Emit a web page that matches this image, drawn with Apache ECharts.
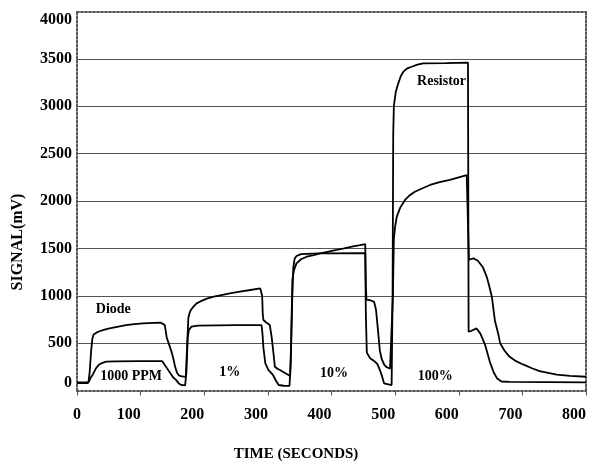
<!DOCTYPE html>
<html>
<head>
<meta charset="utf-8">
<script src="https://cdn.jsdelivr.net/npm/echarts@6/dist/echarts.min.js"></script>
<style>
html,body{margin:0;padding:0;background:#fff;}
#chart{width:590px;height:464px;}
</style>
</head>
<body>
<div id="chart"></div>
<script>
// ---- data (time in seconds, signal in mV) ----
const xTicks = [0, 100, 200, 300, 400, 500, 600, 700, 800];
const yTicks = [0, 500, 1000, 1500, 2000, 2500, 3000, 3500, 4000];

const diodeTime = [0, 10, 18, 20, 22, 24, 26, 33, 42, 51, 65, 77, 90, 104, 120, 132, 135,
  138, 141, 145, 149, 152, 154, 157, 160, 165, 171,
  173, 175, 177, 179, 183, 188, 194, 204, 215, 225, 240, 256, 270, 288, 290,
  291, 292, 293, 297, 303, 306, 309, 311, 315, 319, 327, 335,
  336.5, 338.5, 341, 345, 352, 361, 372, 382, 395, 408, 420, 432, 445, 453,
  454, 455, 462, 467, 470, 473, 476, 479, 483, 487, 492, 494.5,
  496.5, 498, 500, 502.6, 508, 515.6, 522, 531, 543, 555, 570, 586, 600, 612.5, 614.5,
  616, 619, 623, 630, 638, 644, 648, 652, 657, 662, 665, 672, 680, 690, 701, 715, 727, 754, 775, 800];
const diodeSignal = [85, 85, 85, 200, 400, 540, 590, 620, 640, 656, 675, 690, 700, 709, 713, 716, 718,
  690, 560, 480, 400, 320, 255, 190, 160, 148, 143,
  450, 765, 820, 850, 885, 920, 940, 970, 990, 1005, 1025, 1043, 1058, 1078, 1080,
  1000, 800, 744, 720, 691, 560, 380, 251, 230, 216, 185, 153,
  500, 1166, 1270, 1342, 1385, 1412, 1430, 1448, 1465, 1483, 1500, 1518, 1535, 1546,
  1100, 960, 950, 935, 850, 640, 420, 330, 270, 245, 230, 228,
  1000, 1600, 1730, 1834, 1930, 2011, 2055, 2098, 2135, 2169, 2198, 2222, 2250, 2274, 2280,
  1380, 1390, 1395, 1370, 1300, 1200, 1100, 990, 730, 600, 500, 420, 355, 310, 275, 235, 205, 168, 155, 145];

const resistorTime = [0, 10, 17, 19, 22, 25, 30, 35, 40, 46, 60, 100, 134,
  137, 142, 147, 151, 156, 160, 164, 170,
  172, 174, 176, 180, 190, 250, 290,
  291.5, 293, 296, 301, 308, 313, 317, 325, 334,
  336, 338, 340, 342, 345, 352, 380, 453,
  454, 455.5, 460.7, 468, 472, 476, 479, 482.6, 485, 494.5,
  496, 497, 498, 501, 505, 509, 513, 519, 526, 535, 544, 580, 614.5,
  615.5, 620, 628, 634, 641, 649, 655, 660, 667, 680, 800];
const resistorSignal = [78, 78, 78, 100, 140, 170, 237, 275, 292, 304, 308, 310, 310,
  290, 230, 180, 140, 110, 75, 58, 55,
  200, 560, 640, 675, 685, 690, 690,
  600, 450, 287, 216, 164, 100, 58, 50, 48,
  300, 900, 1300, 1390, 1420, 1440, 1448, 1450,
  800, 400, 340, 305, 280, 216, 160, 76, 58, 58,
  1000, 2700, 3000, 3150, 3242, 3320, 3365, 3400, 3417, 3440, 3453, 3455, 3460,
  620, 630, 655, 600, 490, 300, 190, 130, 95, 90, 85];

const noteText = ['Diode', '1000 PPM', '1%', '10%', '100%', 'Resistor'];
const noteTime = [57, 85, 240, 404, 563, 573];
const noteSignal = [860, 153, 195, 185, 153, 3266];

// ---- build ----
const zip = (a, b) => a.map((v, i) => [v, b[i]]);
const FONT = 'Liberation Serif';
const dotted = { show: true, onZero: false, lineStyle: { color: '#555', width: 2, type: 'dotted' } };

const chart = echarts.init(document.getElementById('chart'), null, { renderer: 'canvas' });
chart.setOption({
  animation: false,
  backgroundColor: '#fff',
  grid: { left: 77, right: 4, top: 11.5, bottom: 73.5, containLabel: false },
  xAxis: [{
    type: 'value', min: xTicks[0], max: xTicks[xTicks.length - 1], interval: xTicks[1] - xTicks[0],
    axisLine: dotted,
    axisTick: { show: true, inside: false, length: 5, lineStyle: { color: '#555', width: 1 } },
    splitLine: { show: false },
    axisLabel: { fontFamily: FONT, fontWeight: 'bold', fontSize: 16, color: '#000', margin: 16,
      align: 'right', alignMinLabel: 'center', formatter: v => String(v) }
  }, {
    type: 'value', position: 'top', min: 0, max: 800,
    axisLine: dotted, axisTick: { show: false }, axisLabel: { show: false }, splitLine: { show: false }
  }],
  yAxis: [{
    type: 'value', min: yTicks[0], max: yTicks[yTicks.length - 1], interval: yTicks[1] - yTicks[0],
    axisLine: dotted,
    axisTick: { show: false },
    splitLine: { show: true, showMinLine: false, showMaxLine: false, lineStyle: { color: '#555', width: 1, type: 'solid' } },
    axisLabel: { fontFamily: FONT, fontWeight: 'bold', fontSize: 16, color: '#000', margin: 5,
      verticalAlignMaxLabel: 'top', verticalAlignMinLabel: 'bottom', formatter: v => String(v) }
  }, {
    type: 'value', position: 'right', min: 0, max: 4000,
    axisLine: dotted, axisTick: { show: false }, axisLabel: { show: false }, splitLine: { show: false }
  }],
  series: [{
    name: 'Diode', type: 'line', data: zip(diodeTime, diodeSignal), showSymbol: false, symbol: 'none',
    lineStyle: { color: '#000', width: 1.8 }, z: 3, silent: true
  }, {
    name: 'Resistor', type: 'line', data: zip(resistorTime, resistorSignal), showSymbol: false, symbol: 'none',
    lineStyle: { color: '#000', width: 1.8 }, z: 3, silent: true
  }, {
    name: 'notes', type: 'scatter', symbolSize: 0, silent: true, z: 4,
    itemStyle: { color: '#fff', opacity: 0 },
    data: noteText.map((t, i) => ({ name: t, value: [noteTime[i], noteSignal[i]] })),
    label: { show: true, position: 'inside', formatter: p => p.name,
      fontFamily: FONT, fontWeight: 'bold', fontSize: 14, color: '#000',
      textBorderWidth: 0, textBorderColor: 'transparent', opacity: 1 }
  }],
  graphic: [{
    type: 'text', x: 296, y: 454, silent: true,
    style: { text: 'TIME (SECONDS)', fontFamily: FONT, fontWeight: 'bold', fontSize: 15, fill: '#000',
      align: 'center', verticalAlign: 'middle' }
  }, {
    type: 'text', x: 18, y: 242, rotation: Math.PI / 2, silent: true,
    style: { text: 'SIGNAL(mV)', fontFamily: FONT, fontWeight: 'bold', fontSize: 16, fill: '#000',
      align: 'center', verticalAlign: 'middle' }
  }]
});
</script>
</body>
</html>
